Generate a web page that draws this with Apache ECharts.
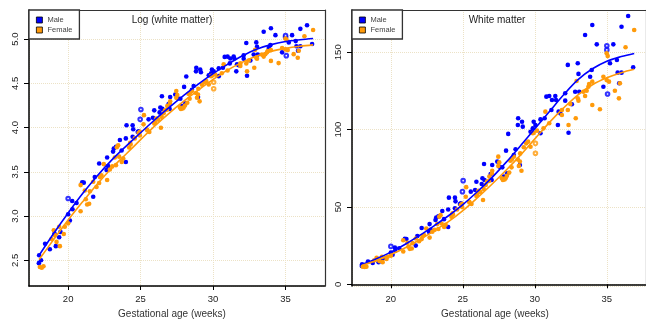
<!DOCTYPE html>
<html>
<head>
<meta charset="utf-8">
<script src="https://cdn.jsdelivr.net/npm/echarts@6/dist/echarts.min.js"></script>
<style>
html,body{margin:0;padding:0;background:#fff;}
#chart{width:646px;height:320px;}
</style>
</head>
<body>
<div id="chart"></div>
<script>
// ---- data (gestational age in weeks, white matter volume) ----
const maleAge = [17.98,18.0,18.13,18.41,18.74,19.06,19.15,19.38,19.47,20.0,20.12,20.28,20.3,20.58,20.97,21.08,21.73,21.84,22.14,22.65,22.76,22.69,23.1,23.15,23.3,23.57,23.69,23.98,23.98,24.03,24.45,24.49,24.45,24.8,24.86,25.55,25.85,25.94,26.31,26.36,26.47,26.5,26.93,27.04,27.0,27.39,27.55,27.74,27.85,28.08,28.0,28.15,28.54,28.66,28.82,28.84,28.96,29.11,29.16,29.7,29.86,29.92,30.04,30.39,30.39,30.68,30.8,31.0,31.15,31.19,31.42,31.47,31.6,31.65,31.77,32.11,32.11,32.29,32.34,32.57,32.8,32.98,33.03,33.08,33.49,33.84,33.95,33.99,34.3,34.76,35.22,35.45,35.7,35.75,35.86,36.02,36.02,36.48,36.83];
const maleWM = [11.8,12.9,12.2,14.7,13.8,16.5,14.3,15.8,16.8,20.5,19.1,23.8,21.7,23.3,29.4,29.3,25.0,31.2,36.4,33.8,35.3,38.9,41.6,43.1,43.9,47.4,42.1,37.0,48.3,56.0,56.0,53.6,49.2,51.9,52.3,59.9,61.0,66.3,64.8,68.5,77.8,67.4,71.3,77.1,67.4,79.3,76.0,75.6,69.6,71.8,86.4,97.2,83.6,87.3,103,107.3,77.1,105.1,101.9,98.6,100.8,105.1,103,106.6,97.6,107.3,121.3,121.7,112.7,119.1,121.7,119.1,103,111.6,110.5,123.5,118.7,141.8,98,116.4,124.5,142.9,136,124.5,161.1,134.2,138.5,167.6,155.1,127.7,142.9,155.1,145,136.8,130,136.8,166.5,173.4,140.3];
const maleOpenAge = [20.0,24.97,25.02,35.0,35.0,35.05];
const maleOpenWM  = [24.5,59.9,67.0,151.5,154.2,123];

const femaleAge = [18.05,18.18,18.3,18.85,19.01,19.08,19.2,19.38,19.43,19.7,19.77,20.0,20.86,20.86,21.15,21.22,21.31,21.45,21.5,21.73,21.96,22.14,22.19,22.3,22.46,22.69,22.88,23.04,23.22,23.3,23.36,23.45,23.52,23.7,23.8,24.21,24.28,24.31,24.6,24.86,24.95,24.95,25.2,25.23,25.44,25.46,25.6,25.94,25.99,26.08,26.22,26.4,26.45,26.59,26.68,26.82,26.84,27.04,27.02,27.46,27.46,27.53,27.71,27.78,27.9,27.97,28.06,28.22,28.3,28.38,28.4,28.54,28.82,28.89,28.96,28.98,29.07,29.23,29.4,29.53,29.7,29.86,29.92,30.15,30.6,30.73,31.0,31.88,31.88,32.29,32.34,32.46,32.84,32.9,32.98,33.03,33.37,33.49,33.6,33.72,33.77,33.99,33.99,34.52,34.76,34.99,35.06,34.99,35.15,35.56,35.84,35.91,36.3,36.9];
const femaleWM = [11.3,11.2,11.4,15.5,17.1,16.2,15.0,17.8,14.3,16.4,17.8,18.5,21.2,28.5,26.8,24.3,22.9,23.1,26.6,29.6,27.9,29.2,31.2,31.8,36.1,30.2,34.0,35.2,38.9,35.7,43.7,44.7,39.3,37.0,38.5,43.6,45.9,45.1,48.3,51.3,52,49.9,56.6,62.8,53.4,52.9,51.9,57.1,58,60.5,59.7,54.5,61.6,64.2,66.4,66.8,69.6,73.4,71.6,82.5,76.5,78.8,68.5,67.4,67.7,68.5,70.1,72.2,79.9,75.6,80.7,82.5,80.7,76.5,79.3,84.6,73.4,88.6,91.1,92.2,88.9,97.6,98,99.3,100.8,111.6,104.1,109.4,112.7,112.7,103,116.5,107.3,131.4,120.2,118.7,124.5,121.7,125.1,127.7,129.5,131,115.9,113.1,134.2,149.3,147.5,132,131,125.1,120.2,130,153.2,164.4];
const femaleOpenAge = [30.04,30.04];
const femaleOpenWM  = [91.1,84.7];

// fitted curves
const fitAge    = [18,19,20,21,22,23,24,25,26,27,28,29,30,31,32,33,34,35,36,36.9];
const maleFit   = [12.9,16.5,20.8,25.9,31.6,37.8,44.3,51.5,59.8,68.8,78.8,89.5,100.5,111.5,122.5,132.3,139.3,144.2,147.2,149.2];
const femaleFit = [12.3,15.4,19.2,23.6,28.8,34.5,40.5,47.6,55.8,64.5,73.7,83.5,94,104.5,114,122.5,129,133.5,136.8,139.0];

const xTickLabels = ['20','25','30','35'];

// ---- helpers ----
const pairs = (xs, ys) => xs.map((x, i) => [x, ys[i]]);
const logOf = arr => arr.map(v => Math.log(v));

const BLUE = '#0000ff';
const ORANGE = '#ff9a0a';
const FONT = '"Liberation Sans", Arial, Helvetica, sans-serif';
const GRIDC = '#ece2c6';
const XMIN = 17.3, XMAX = 37.72;

function xAxisCfg(idx) {
  return {
    type: 'value', gridIndex: idx, min: XMIN, max: XMAX, splitNumber: 4, z: 1,
    axisLine: { show: true, lineStyle: { color: '#000', width: 1.5 } },
    axisTick: { show: true, length: 4, lineStyle: { color: '#000' } },
    axisLabel: { show: true, margin: 8, fontSize: 9.5, color: '#222', fontFamily: FONT,
      showMinLabel: false, showMaxLabel: false,
      formatter: v => xTickLabels.includes(String(v)) ? String(v) : '' },
    splitLine: { show: true, lineStyle: { color: GRIDC, type: 'dotted', width: 1 } }
  };
}
function yAxisCfg(idx, min, max, split, fmt) {
  return {
    type: 'value', gridIndex: idx, min: min, max: max, splitNumber: split, z: 1,
    axisLine: { show: true, lineStyle: { color: '#000', width: 1.5 } },
    axisTick: { show: true, length: 5, lineStyle: { color: '#000' } },
    axisLabel: { show: true, rotate: 90, margin: 9, fontSize: 9.5, color: '#222', fontFamily: FONT,
      showMinLabel: false, showMaxLabel: false, formatter: fmt },
    splitLine: { show: true, lineStyle: { color: GRIDC, type: 'dotted', width: 1 } }
  };
}
// border axes (top / right edges of each box)
function xBorder(idx) {
  return { type: 'value', gridIndex: idx, position: 'top', min: XMIN, max: XMAX, z: 2,
    axisLine: { show: true, onZero: false, lineStyle: { color: '#333', width: 1.2 } },
    axisTick: { show: false }, axisLabel: { show: false }, splitLine: { show: false } };
}
function yBorder(idx, min, max) {
  return { type: 'value', gridIndex: idx, position: 'right', min: min, max: max, z: 2,
    axisLine: { show: true, onZero: false, lineStyle: { color: '#333', width: 1.2 } },
    axisTick: { show: false }, axisLabel: { show: false }, splitLine: { show: false } };
}

function scatter(name, data, color, idx, empty) {
  return {
    name: name, type: 'scatter', xAxisIndex: idx, yAxisIndex: idx,
    data: data, symbol: empty ? 'emptyCircle' : 'circle', symbolSize: empty ? 3.6 : 4.6,
    itemStyle: empty ? { color: color, borderColor: color, borderWidth: 1.3 } : { color: color, opacity: 1 },
    silent: true, animation: false, z: 3
  };
}
function fitLine(name, data, color, idx) {
  return {
    name: name, type: 'line', xAxisIndex: idx, yAxisIndex: idx, data: data,
    smooth: 0.35, showSymbol: false, symbol: 'none',
    lineStyle: { color: color, width: 1.6 }, itemStyle: { color: color },
    silent: true, animation: false, z: 5
  };
}

const legendCfg = (left) => ({
  left: left, top: 10, orient: 'vertical', data: ['Male', 'Female'],
  icon: 'rect', itemWidth: 6, itemHeight: 6, itemGap: 2,
  padding: [6, 7, 5, 7], backgroundColor: '#fff', borderColor: '#333', borderWidth: 1.3,
  borderRadius: 0, selectedMode: false, z: 6,
  itemStyle: { borderColor: '#000', borderWidth: 0.8 },
  textStyle: { fontSize: 7.5, color: '#444', fontFamily: FONT, lineHeight: 8 }
});

const tStyle = { fontSize: 10, fontWeight: 'normal', color: '#222', fontFamily: FONT };

const chart = echarts.init(document.getElementById('chart'), null, { renderer: 'canvas' });
chart.setOption({
  animation: false,
  backgroundColor: '#fff',
  title: [
    { text: 'Log (white matter)', left: 172, top: 15, padding: 0, textAlign: 'center', textStyle: tStyle },
    { text: 'White matter', left: 497, top: 15, padding: 0, textAlign: 'center', textStyle: tStyle },
    { text: 'Gestational age (weeks)', left: 172, top: 309, padding: 0, textAlign: 'center',
      textStyle: Object.assign({}, tStyle, { color: '#333' }) },
    { text: 'Gestational age (weeks)', left: 495, top: 309, padding: 0, textAlign: 'center',
      textStyle: Object.assign({}, tStyle, { color: '#333' }) }
  ],
  legend: [legendCfg(29), legendCfg(352)],
  grid: [
    { left: 29, top: 10, width: 296, height: 276, show: false },
    { left: 352, top: 10, width: 296, height: 276, show: false }
  ],
  xAxis: [xAxisCfg(0), xAxisCfg(1), xBorder(0), xBorder(1)],
  yAxis: [
    yAxisCfg(0, 2.21, 5.328, 5, v => v.toFixed(1)),
    yAxisCfg(1, -1.1, 177.3, 4, v => String(Math.round(v))),
    yBorder(0, 2.21, 5.328),
    yBorder(1, -1.1, 177.3)
  ],
  series: [
    scatter('Male', pairs(maleAge, logOf(maleWM)), BLUE, 0, false),
    scatter('Male open', pairs(maleOpenAge, logOf(maleOpenWM)), BLUE, 0, true),
    scatter('Female', pairs(femaleAge, logOf(femaleWM)), ORANGE, 0, false),
    scatter('Female open', pairs(femaleOpenAge, logOf(femaleOpenWM)), ORANGE, 0, true),
    fitLine('Male fit', pairs(fitAge, logOf(maleFit)), BLUE, 0),
    fitLine('Female fit', pairs(fitAge, logOf(femaleFit)), ORANGE, 0),

    scatter('Male', pairs(maleAge, maleWM), BLUE, 1, false),
    scatter('Male open', pairs(maleOpenAge, maleOpenWM), BLUE, 1, true),
    scatter('Female', pairs(femaleAge, femaleWM), ORANGE, 1, false),
    scatter('Female open', pairs(femaleOpenAge, femaleOpenWM), ORANGE, 1, true),
    fitLine('Male fit', pairs(fitAge, maleFit), BLUE, 1),
    fitLine('Female fit', pairs(fitAge, femaleFit), ORANGE, 1)
  ]
});
</script>
</body>
</html>
